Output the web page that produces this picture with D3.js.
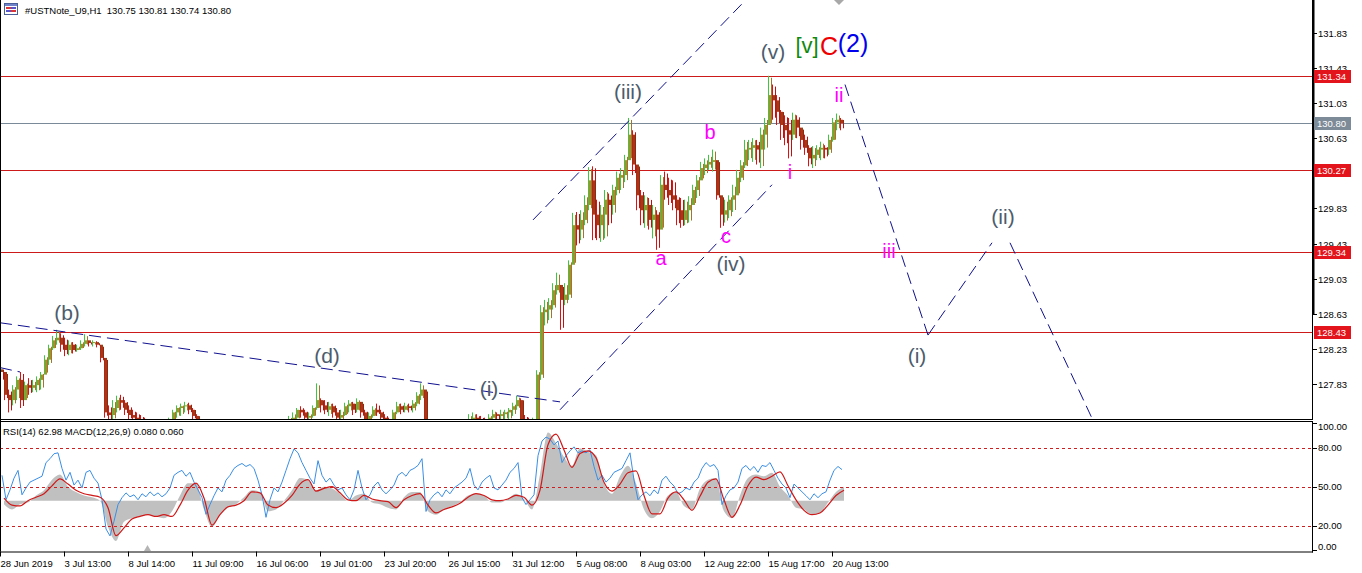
<!DOCTYPE html>
<html><head><meta charset="utf-8">
<script src="https://cdn.jsdelivr.net/npm/d3@7"></script>
<style>
body{margin:0;background:#fff;}
svg{display:block;font-family:"Liberation Sans",Arial,sans-serif;}
</style>
</head><body>
<svg id="c" width="1362" height="573"></svg>
<script>
// ---------------- DATA ----------------
const symbolTitle = "#USTNote_U9,H1";
const headerQuote = "130.75 130.81 130.74 130.80";
const indicatorTitle = "RSI(14) 62.98 MACD(12,26,9) 0.080 0.060";

// H1 candles grouped in 4-bar slots, prices
const firstOpen = 128.00;
const highs = [128.02,127.97,127.77,127.82,127.92,127.97,127.86,127.90,127.88,127.92,
127.97,128.16,128.28,128.38,128.45,128.41,128.36,128.33,128.31,128.28,
128.33,128.40,128.33,128.33,128.32,128.28,128.13,127.59,127.65,127.70,
127.71,127.65,127.59,127.54,127.51,127.48,127.45,127.37,127.33,127.31,
127.33,127.40,127.45,127.54,127.59,127.61,127.63,127.62,127.56,127.49,
127.40,127.31,127.24,127.20,127.14,127.11,127.15,127.20,127.22,127.17,
127.11,127.06,127.03,127.08,127.13,127.17,127.20,127.24,127.29,127.33,
127.37,127.42,127.47,127.51,127.56,127.58,127.54,127.51,127.59,127.84,
127.67,127.65,127.63,127.61,127.56,127.54,127.62,127.65,127.63,127.67,
127.63,127.54,127.51,127.58,127.61,127.54,127.49,127.45,127.54,127.63,
127.61,127.62,127.61,127.65,127.74,127.84,127.77,127.42,127.33,127.25,
127.20,127.17,127.20,127.24,127.31,127.37,127.42,127.49,127.51,127.49,
127.47,127.45,127.49,127.54,127.51,127.54,127.54,127.56,127.62,127.70,
127.67,127.48,127.45,127.45,127.99,128.73,128.79,128.81,128.98,129.10,
128.96,128.98,129.24,129.78,129.79,129.81,129.98,130.30,130.31,129.93,
129.87,130.04,130.00,130.10,130.25,130.29,130.44,130.86,130.72,130.33,
130.04,129.98,129.95,129.87,129.81,130.21,130.25,130.18,130.15,129.98,
129.95,129.93,129.97,130.10,130.21,130.36,130.40,130.44,130.50,130.38,
129.98,129.93,129.98,130.10,130.27,130.38,130.61,130.61,130.63,130.61,
130.75,130.86,131.34,131.24,131.12,130.95,130.89,130.86,130.92,130.89,
130.75,130.67,130.55,130.54,130.55,130.59,130.55,130.67,130.86,130.91,
130.86];
const lows = [127.86,127.65,127.51,127.59,127.65,127.56,127.65,127.71,127.74,127.74,
127.77,127.94,128.05,128.22,128.28,128.20,128.15,128.16,128.18,128.20,
128.22,128.26,128.26,128.26,128.25,128.08,127.45,127.37,127.42,127.51,
127.54,127.48,127.42,127.37,127.33,127.31,127.25,127.20,127.14,127.14,
127.17,127.22,127.29,127.37,127.45,127.47,127.51,127.49,127.42,127.33,
127.22,127.13,127.06,126.99,126.97,126.95,126.99,127.03,127.06,126.99,
126.91,126.88,126.86,126.91,126.97,127.01,127.06,127.08,127.13,127.17,
127.20,127.25,127.31,127.33,127.42,127.45,127.40,127.38,127.45,127.54,
127.51,127.49,127.47,127.45,127.40,127.37,127.47,127.51,127.48,127.51,
127.45,127.38,127.38,127.45,127.47,127.40,127.33,127.31,127.38,127.49,
127.49,127.51,127.51,127.51,127.58,127.65,127.33,127.22,127.14,127.08,
127.03,126.99,127.01,127.08,127.13,127.20,127.26,127.33,127.35,127.33,
127.31,127.29,127.33,127.38,127.35,127.40,127.42,127.42,127.47,127.54,
127.37,127.31,127.29,127.31,127.40,127.88,128.50,128.56,128.68,128.85,
128.45,128.73,128.79,129.19,129.41,129.47,129.64,129.81,129.47,129.47,
129.45,129.49,129.64,129.76,129.98,130.04,130.13,130.38,130.21,129.81,
129.64,129.61,129.59,129.49,129.36,129.76,129.93,129.87,129.81,129.64,
129.61,129.64,129.67,129.87,129.95,130.18,130.21,130.27,130.25,129.93,
129.61,129.67,129.72,129.79,129.98,130.13,130.29,130.38,130.36,130.33,
130.29,130.50,130.84,130.84,130.78,130.61,130.55,130.40,130.61,130.63,
130.50,130.44,130.31,130.29,130.38,130.38,130.40,130.44,130.59,130.72,
130.72];
const closes = [127.97,127.71,127.65,127.77,127.88,127.65,127.82,127.79,127.82,127.88,
127.94,128.11,128.24,128.33,128.36,128.28,128.22,128.28,128.22,128.24,
128.29,128.33,128.30,128.31,128.28,128.13,127.51,127.48,127.56,127.65,
127.62,127.54,127.48,127.45,127.40,127.37,127.31,127.25,127.20,127.22,
127.29,127.33,127.42,127.51,127.56,127.58,127.59,127.54,127.47,127.37,
127.29,127.20,127.11,127.08,127.06,127.03,127.11,127.14,127.13,127.06,
126.97,126.95,126.99,127.03,127.08,127.13,127.15,127.20,127.24,127.29,
127.33,127.38,127.42,127.45,127.54,127.51,127.45,127.47,127.56,127.65,
127.59,127.54,127.58,127.51,127.45,127.48,127.58,127.61,127.54,127.63,
127.51,127.42,127.47,127.54,127.51,127.45,127.38,127.36,127.51,127.58,
127.54,127.58,127.56,127.61,127.70,127.77,127.40,127.29,127.20,127.14,
127.11,127.06,127.13,127.20,127.25,127.31,127.37,127.42,127.45,127.40,
127.38,127.36,127.45,127.49,127.47,127.49,127.51,127.54,127.58,127.65,
127.42,127.40,127.37,127.42,127.94,128.65,128.68,128.73,128.90,128.96,
128.79,128.85,129.19,129.64,129.59,129.70,129.87,130.15,129.76,129.64,
129.76,129.93,129.87,130.04,130.18,130.21,130.38,130.67,130.33,129.98,
129.81,129.87,129.70,129.76,129.59,130.10,130.04,129.98,129.93,129.81,
129.70,129.81,129.87,130.04,130.15,130.29,130.33,130.36,130.38,129.98,
129.76,129.81,129.93,129.98,130.18,130.32,130.50,130.52,130.55,130.50,
130.67,130.78,131.12,131.06,130.93,130.78,130.72,130.67,130.84,130.75,
130.61,130.52,130.40,130.44,130.50,130.52,130.50,130.61,130.81,130.84,
130.80];

const rsiValues = [58.6,39.8,47.4,56.4,62.4,43.6,48.9,53.4,54.9,56.4,
57.9,68.4,71.4,75.2,75.9,63.9,54.9,60.9,51.1,54.9,
48.9,60.9,62.4,56.4,52.6,39.8,17.3,12.0,23.3,36.1,
41.4,45.1,42.1,43.6,39.8,44.4,42.1,45.9,42.9,45.1,
42.1,44.4,48.9,58.6,60.9,62.4,57.9,60.9,53.4,47.4,
41.4,28.6,36.1,42.9,48.9,45.9,54.9,58.6,63.9,66.2,
67.7,65.4,66.9,63.9,54.9,43.6,26.3,39.8,48.9,45.9,
53.4,62.4,71.4,78.9,75.9,68.4,62.4,56.4,51.9,69.9,
58.6,53.4,56.4,51.1,47.4,48.9,43.6,39.8,47.4,62.4,
48.9,39.8,43.6,50.4,53.4,47.4,44.4,47.4,51.1,58.6,
60.9,57.9,62.4,63.9,66.2,71.4,30.8,39.8,43.6,45.9,
42.1,47.4,44.4,48.9,51.1,53.4,56.4,63.9,51.1,47.4,
53.4,56.4,58.6,48.9,47.4,51.1,54.9,60.9,63.9,68.4,
41.4,36.1,39.8,43.6,73.7,85.0,88.0,86.5,82.0,85.0,
68.4,73.7,77.4,80.5,75.9,77.4,75.9,78.2,65.4,54.9,
58.6,53.4,56.4,60.9,62.4,63.9,69.9,75.9,54.9,39.8,
43.6,45.9,42.9,47.4,44.4,54.9,57.9,53.4,50.4,44.4,
45.9,48.9,47.4,53.4,56.4,63.9,68.4,65.4,66.9,62.4,
36.1,42.9,47.4,48.9,53.4,63.9,66.2,62.4,65.4,60.9,
66.2,65.4,68.4,62.4,56.4,51.9,48.9,41.4,51.9,48.9,
45.9,42.9,39.8,44.4,41.4,44.4,45.9,54.9,62.4,65.4,
63.0];

// MACD main (histogram) and signal, one value per 2 slots
const macdMain = [-0.02,-0.05,-0.02,-0.01,0.03,0.06,0.12,0.15,0.08,0.05,
0.03,0.02,0.0,-0.15,-0.23,-0.12,-0.10,-0.09,-0.08,-0.09,
-0.10,-0.06,0.03,0.10,0.10,-0.05,-0.15,-0.08,-0.04,-0.02,
0.02,0.06,0.05,-0.06,-0.05,0.0,0.06,0.13,0.12,0.06,
0.08,0.07,0.04,0.0,0.03,0.04,-0.01,-0.02,-0.04,-0.05,
0.02,0.05,0.05,-0.06,-0.08,-0.05,-0.03,-0.01,0.03,0.04,
0.03,-0.01,-0.01,0.01,0.04,0.01,-0.05,0.15,0.39,0.33,
0.25,0.20,0.30,0.28,0.26,0.10,0.04,0.14,0.20,0.10,
-0.05,-0.10,-0.06,0.03,0.05,-0.03,-0.05,0.07,0.12,0.13,
-0.06,-0.10,0.03,0.13,0.15,0.14,0.16,0.08,0.03,-0.04,
-0.05,-0.08,-0.07,-0.01,0.05,0.08];
const macdSignal = [0.015,-0.025,-0.03,0.0,0.02,0.04,0.085,0.125,0.095,0.06,
0.04,0.03,0.02,-0.04,-0.20,-0.155,-0.105,-0.09,-0.08,-0.09,
-0.08,-0.09,-0.025,0.06,0.10,0.015,-0.14,-0.08,-0.035,-0.025,
0.0,0.05,0.045,-0.025,-0.04,-0.015,0.03,0.095,0.12,0.055,
0.07,0.08,0.045,0.005,0.0,0.03,0.01,0.0,-0.005,-0.04,
0.005,0.03,0.04,-0.025,-0.07,-0.05,-0.035,-0.015,0.02,0.04,
0.03,0.005,0.0,0.01,0.03,0.02,-0.025,0.06,0.32,0.38,
0.29,0.19,0.27,0.285,0.245,0.105,0.055,0.095,0.16,0.17,
0.03,-0.075,-0.075,0.015,0.05,0.005,-0.055,0.025,0.105,0.125,
0.005,-0.095,-0.025,0.085,0.135,0.12,0.14,0.165,0.085,0.005,
-0.055,-0.08,-0.07,-0.025,0.03,0.06];

const priceTicks = [131.83,131.43,131.03,130.63,130.23,129.83,129.43,129.03,128.63,128.23,127.83];
const levelLines = [131.34,130.27,129.34,128.43];
const bidPrice = 130.80;
const rsiLevels = [80,50,20];
const rsiTicks = [100,80,50,20,0];
const timeLabels = ["28 Jun 2019","3 Jul 13:00","8 Jul 14:00","11 Jul 09:00","16 Jul 06:00","19 Jul 01:00","23 Jul 20:00","26 Jul 15:00","31 Jul 12:00","5 Aug 08:00","8 Aug 03:00","12 Aug 22:00","15 Aug 17:00","20 Aug 13:00"];
const barsPerLabel = 16;

// dashed trend lines: [[slot, price],[slot, price]]
const trendLines = [
  [[133.25,129.70],[190,132.37]],
  [[140,127.54],[193,130.10]],
  [[0,128.53],[140,127.63]],
  [[0,128.02],[5,127.97]],
  [[211.25,131.24],[232,128.39]],
  [[232,128.39],[248,129.44]],
  [[252.5,129.44],[273.75,127.37]]
];
// wave labels: [text, slot, price, style]
const waveLabels = [
  ["(b)",16.75,128.65,"w"],["(d)",81.75,128.16,"w"],["(i)",122.25,127.78,"w"],
  ["(iii)",157,131.16,"w"],["(iv)",182.75,129.20,"w"],["(v)",193.25,131.62,"w"],
  ["(i)",229.25,128.16,"w"],["(ii)",250.75,129.74,"w"],
  ["a",165.25,129.27,"m"],["b",177.5,130.70,"m"],["c",181.5,129.52,"m"],
  ["i",197.5,130.24,"m"],["ii",209.75,131.12,"m"],["iii",222.25,129.35,"m"],
  ["[v]",201.75,131.68,"g"],["C",207.25,131.68,"r"],["(2)",213.25,131.71,"b"]
];

// ---------------- LAYOUT ----------------
const svg = d3.select("#c");
const plotRight = 1312, mainBottom = 419, indTop = 422, indBottom = 551.5;
const x = d3.scaleLinear().domain([0, 328]).range([0, plotRight]);
const y = d3.scaleLinear().domain([127.435, 132.202]).range([mainBottom, 0]);
const yR = d3.scaleLinear().domain([0, 100]).range([551.5, 421.5]);
const yM = d3.scaleLinear().domain([0, 0.4]).range([500.7, 430.7]);

const defs = svg.append("defs");
defs.append("clipPath").attr("id","cm").append("rect").attr("x",0).attr("y",0).attr("width",plotRight).attr("height",mainBottom);
defs.append("clipPath").attr("id","ci").append("rect").attr("x",0).attr("y",indTop).attr("width",plotRight).attr("height",indBottom-indTop);

const main = svg.append("g").attr("clip-path","url(#cm)");

// level lines
main.selectAll(".lvl").data(levelLines).join("line")
  .attr("x1",0).attr("x2",plotRight).attr("y1",d=>Math.round(y(d))+0.5).attr("y2",d=>Math.round(y(d))+0.5)
  .attr("stroke","#cc1a1a").attr("stroke-width",1);
main.append("line").attr("x1",0).attr("x2",plotRight)
  .attr("y1",Math.round(y(bidPrice))+0.5).attr("y2",Math.round(y(bidPrice))+0.5)
  .attr("stroke","#7b8a99").attr("stroke-width",1);

// candles
const bars = highs.map((h,i)=>({i, h, l:lows[i], c:closes[i], o: i===0?firstOpen:closes[i-1]}));
const cg = main.append("g");
bars.forEach(b=>{
  const up = b.c >= b.o;
  const top = Math.max(b.h,b.o,b.c), bot = Math.min(b.l,b.o,b.c);
  const x0 = x(b.i);
  cg.append("line").attr("x1",x0+0.5).attr("x2",x0+0.5).attr("y1",y(top)).attr("y2",y(bot))
    .attr("stroke", up?"#3cc83c":"#e01010").attr("stroke-width",1);
  cg.append("line").attr("x1",x0+3.5).attr("x2",x0+3.5).attr("y1",y(top)+2).attr("y2",y(bot)-2)
    .attr("stroke", up?"#9a7a2a":"#c01010").attr("stroke-width",1);
  const by = y(Math.max(b.o,b.c)), bh = Math.max(1, Math.abs(y(b.o)-y(b.c)));
  cg.append("rect").attr("x",x0+1).attr("width",2).attr("y",by).attr("height",bh)
    .attr("fill", up?"#b08a2e":"#7a4e18");
});

// trend lines
main.selectAll(".tl").data(trendLines).join("line")
  .attr("x1",d=>x(d[0][0])).attr("y1",d=>y(d[0][1]))
  .attr("x2",d=>x(d[1][0])).attr("y2",d=>y(d[1][1]))
  .attr("stroke","#101090").attr("stroke-width",1).attr("stroke-dasharray","12,6");

// wave labels
const styles = {
  w:{fill:"#4c5c6c",size:21}, m:{fill:"#ff00ff",size:20},
  g:{fill:"#118811",size:22}, r:{fill:"#ee0000",size:25}, b:{fill:"#0000ee",size:25}
};
main.selectAll(".wl").data(waveLabels).join("text")
  .attr("x",d=>x(d[1])).attr("y",d=>y(d[2]))
  .attr("text-anchor","middle").attr("dominant-baseline","central")
  .attr("fill",d=>styles[d[3]].fill).attr("font-size",d=>styles[d[3]].size+"px")
  .text(d=>d[0]);

// chart shift marker at top
svg.append("path").attr("d",`M${x(208.5)},0 L${x(211)},0 L${x(209.75)},5 Z`).attr("fill","#a8a8a8");

// header
const hdr = svg.append("g");
hdr.append("rect").attr("x",4.5).attr("y",3.5).attr("width",13).attr("height",11).attr("fill","#fff").attr("stroke","#4a5f9a");
hdr.append("rect").attr("x",5).attr("y",4).attr("width",12).attr("height",2).attr("fill","#6d82c8");
[[6,7,"#d33"],[11,7,"#55c"],[6,10,"#55c"],[11,10,"#d33"]].forEach(r=>{
  hdr.append("rect").attr("x",r[0]).attr("y",r[1]).attr("width",5).attr("height",2).attr("fill",r[2]);
});
hdr.append("text").attr("x",25).attr("y",10).attr("dominant-baseline","central")
  .attr("font-size","9.5px").attr("fill","#000").attr("xml:space","preserve")
  .text(symbolTitle + "  " + headerQuote);

// ---------------- INDICATOR ----------------
const ind = svg.append("g").attr("clip-path","url(#ci)");
const mArea = d3.area().x((d,j)=>x(2*j+1)).y0(yM(0)).y1(d=>yM(d)).curve(d3.curveMonotoneX);
ind.append("path").datum(macdMain).attr("d",mArea).attr("fill","#c0c0c0");
ind.selectAll(".rl").data(rsiLevels).join("line")
  .attr("x1",0).attr("x2",plotRight).attr("y1",d=>Math.round(yR(d))+0.5).attr("y2",d=>Math.round(yR(d))+0.5)
  .attr("stroke","#cc2020").attr("stroke-dasharray","3,3");
ind.append("path").datum(rsiValues)
  .attr("d",d3.line().x((d,i)=>x(i+0.5)).y(d=>yR(d)))
  .attr("fill","none").attr("stroke","#3a8ee6").attr("stroke-width",1);
ind.append("path").datum(macdSignal)
  .attr("d",d3.line().x((d,j)=>x(2*j+1)).y(d=>yM(d)).curve(d3.curveMonotoneX))
  .attr("fill","none").attr("stroke","#d01818").attr("stroke-width",1.2);
svg.append("text").attr("x",3).attr("y",431).attr("dominant-baseline","central")
  .attr("font-size","9.5px").attr("fill","#000").text(indicatorTitle);
svg.append("path").attr("d","M144,551 L147.5,545 L151,551 Z").attr("fill","#b4b4b4");

// ---------------- FRAMES & AXES ----------------
const fr = svg.append("g").attr("stroke","#000").attr("fill","none");
fr.append("line").attr("x1",0.5).attr("x2",0.5).attr("y1",0).attr("y2",indBottom);
fr.append("line").attr("x1",0).attr("x2",plotRight+1).attr("y1",mainBottom+0.5).attr("y2",mainBottom+0.5);
fr.append("line").attr("x1",0).attr("x2",plotRight+1).attr("y1",indTop-0.5).attr("y2",indTop-0.5);
fr.append("line").attr("x1",0).attr("x2",plotRight+1).attr("y1",indBottom+0.5).attr("y2",indBottom+0.5);
fr.append("line").attr("x1",plotRight+0.5).attr("x2",plotRight+0.5).attr("y1",0).attr("y2",mainBottom+1).attr("stroke-width",1);
fr.append("line").attr("x1",plotRight+1.5).attr("x2",plotRight+1.5).attr("y1",0).attr("y2",y(128.63)).attr("stroke-width",2);
fr.append("line").attr("x1",plotRight+0.5).attr("x2",plotRight+0.5).attr("y1",indTop-0.5).attr("y2",indBottom+1);

// price axis
const pa = svg.append("g");
priceTicks.forEach(p=>{
  const yy = Math.round(y(p))+0.5;
  pa.append("line").attr("x1",plotRight).attr("x2",plotRight+5).attr("y1",yy).attr("y2",yy).attr("stroke","#000");
  pa.append("text").attr("x",plotRight+6).attr("y",yy).attr("dominant-baseline","central")
    .attr("font-size","9.5px").attr("fill","#000").text(p.toFixed(2));
});
const tag = (p, col) => {
  const yy = Math.round(y(p));
  pa.append("rect").attr("x",plotRight+2).attr("y",yy-6).attr("width",37).attr("height",13).attr("fill",col);
  pa.append("text").attr("x",plotRight+5).attr("y",yy+0.5).attr("dominant-baseline","central")
    .attr("font-size","9.5px").attr("fill","#fff").text(p.toFixed(2));
};
levelLines.forEach(p=>tag(p,"#e3141b"));
tag(bidPrice,"#7d8a97");

// rsi axis
rsiTicks.forEach(v=>{
  const yy = Math.round(Math.min(Math.max(yR(v), 423), 550))+0.5;
  pa.append("line").attr("x1",plotRight).attr("x2",plotRight+5).attr("y1",yy).attr("y2",yy).attr("stroke","#000");
  pa.append("text").attr("x",plotRight+6).attr("y",Math.min(Math.max(yR(v),426.5),546.5)).attr("dominant-baseline","central")
    .attr("font-size","9.5px").attr("fill","#000").text(v.toFixed(2));
});

// time axis
timeLabels.forEach((t,k)=>{
  const xx = Math.round(x(k*barsPerLabel))+0.5;
  pa.append("line").attr("x1",xx).attr("x2",xx).attr("y1",indBottom).attr("y2",indBottom+5).attr("stroke","#000");
  pa.append("text").attr("x",xx).attr("y",563).attr("dominant-baseline","central")
    .attr("font-size","9.5px").attr("fill","#000").text(t);
});
</script>
</body></html>
